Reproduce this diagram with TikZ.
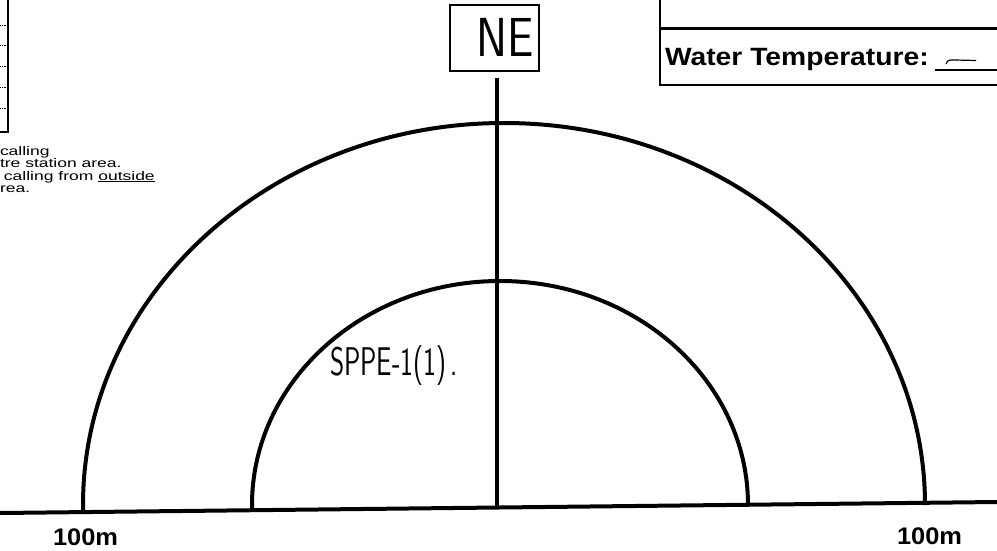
\documentclass[tikz,border=0pt]{standalone}
\usepackage{fontspec}
\usepackage{graphicx}
\setmainfont{Liberation Sans}
\newfontfamily\notefont[FakeStretch=1.4]{Liberation Sans}
\newfontfamily\labelfont[FakeStretch=1.06]{Liberation Sans}
\newfontfamily\tempfont[FakeStretch=1.13]{Liberation Sans}
\begin{document}
\begin{tikzpicture}[x=1pt,y=-1pt,
  heavy/.style={line width=4pt},
  frame/.style={line width=2pt},
  thinrule/.style={line width=0.8pt},
  txt/.style={anchor=base west, inner sep=0pt, outer sep=0pt},
  hand/.style={inner sep=0pt, outer sep=0pt}]
\useasboundingbox (0,0) rectangle (997,550);
\clip (0,0) rectangle (997,550);
\fill[white] (0,0) rectangle (997,550);

% top-left table fragment
\draw[frame] (8,0) -- (8,132) -- (0,132);
\foreach \yy in {25,45,66,87,108} \draw[thinrule,densely dotted] (0,\yy) -- (8,\yy);

% notes
\node[txt] (n1) at (0,155) {\notefont\fontsize{12.5}{12.5}\selectfont calling};
\node[txt] (n2) at (0,167.5) {\notefont\fontsize{12.5}{12.5}\selectfont tre station area.};
\node[txt] (n3) at (4,180) {\notefont\fontsize{12.5}{12.5}\selectfont calling from \underline{outside}};
\node[txt] (n4) at (0,192.5) {\notefont\fontsize{12.5}{12.5}\selectfont rea.};

% NE box
\node[draw, frame, minimum width=89pt, minimum height=66pt, inner sep=0pt] (nebox) at (494.5,38) {};
\node[hand] (ne) at (505,37) {\scalebox{0.85}[1]{\fontsize{55}{55}\selectfont\sffamily NE}};

% water temperature box
\draw[frame] (660,0) -- (660,85) -- (997,85);
\draw[line width=3pt] (660,28) -- (997,28);
\node[txt] (wt) at (665,65) {\tempfont\bfseries\fontsize{25}{25}\selectfont Water Temperature:};
\draw[line width=1.5pt] (935,70) -- (997,70);
\draw[line width=1.2pt] (946,64) .. controls (948,60) .. (955,60) -- (976,60.5);

% diagram
\draw[heavy] (497,78) -- (497,507.5);
\draw[heavy] (0,513) -- (997,502);
\draw[heavy] (83,512) -- (83,505) arc[start angle=180, end angle=360, x radius=421, y radius=382] -- (925,503);
\draw[heavy] (252,510) -- (252,505) arc[start angle=180, end angle=360, x radius=248, y radius=224] -- (748,504.7);

\node[hand, anchor=west] (sppe) at (330,366) {\scalebox{0.68}[1]{\fontsize{40}{40}\selectfont\sffamily SPPE-1(1)\,.}};

\node[txt] (l100) at (53,545) {\labelfont\bfseries\fontsize{24}{24}\selectfont 100m};
\node[txt] (r100) at (897,544) {\labelfont\bfseries\fontsize{24}{24}\selectfont 100m};
\end{tikzpicture}
\end{document}
